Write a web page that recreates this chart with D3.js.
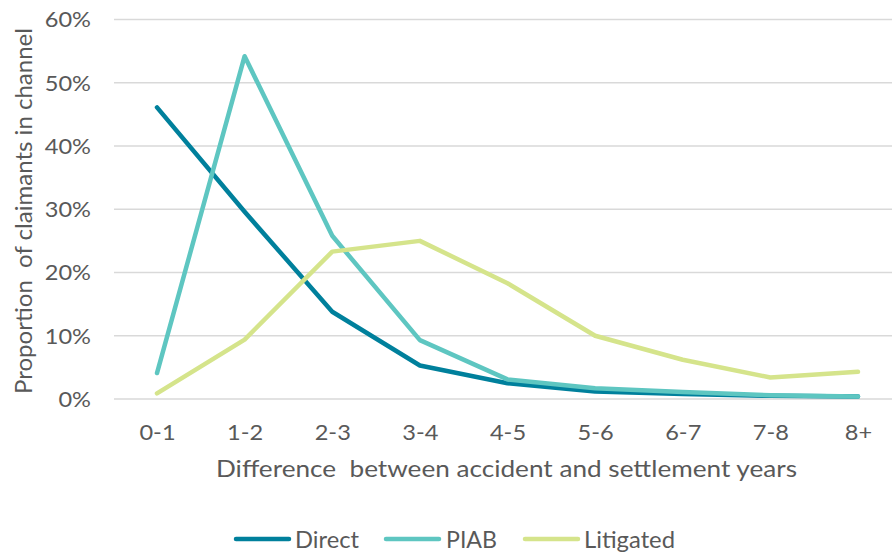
<!DOCTYPE html>
<html><head><meta charset="utf-8">
<script src="https://cdn.jsdelivr.net/npm/d3@7"></script>
<style>body{margin:0;background:#fff}svg{display:block}text{font-family:Lato,"Open Sans",sans-serif;fill:#595959}</style>
</head><body><svg id="c" width="892" height="557"></svg>
<script>
const categories = ["0-1","1-2","2-3","3-4","4-5","5-6","6-7","7-8","8+"];
const direct    = [46.1, 29.6, 13.8, 5.3, 2.5, 1.2, 0.8, 0.5, 0.4];
const piab      = [4.1, 54.2, 25.8, 9.3, 3.1, 1.7, 1.1, 0.6, 0.4];
const litigated = [0.9, 9.4, 23.3, 25.0, 18.3, 10.0, 6.2, 3.4, 4.3];
const yTicks = [0,10,20,30,40,50,60];
const seriesNames = ["Direct","PIAB","Litigated"];
const colors = ["#00809c","#5ec6c1","#d5e48b"];
const series = [direct, piab, litigated];

const svg = d3.select("#c");
const x = d3.scalePoint().domain(categories).range([157, 858]);
const y = d3.scaleLinear().domain([0,60]).range([399, 19.5]);

// gridlines
svg.append("g").selectAll("line").data(yTicks).join("line")
  .attr("x1",114).attr("x2",892).attr("y1",d=>y(d)).attr("y2",d=>y(d))
  .attr("stroke","#d9d9d9").attr("stroke-width",1.5);

// y axis labels
const yAxis = d3.axisLeft(y).tickValues(yTicks).tickFormat(d=>d+"%").tickSize(0).tickPadding(0);
const gy = svg.append("g").attr("transform","translate(91,0)").call(yAxis);
gy.select(".domain").remove();
gy.selectAll("text").attr("font-size",20.5).style("font-family","Lato").attr("fill","#595959")
  .attr("dy","0.36em").attr("transform","scale(1.15,1)");

// x axis labels
const xAxis = d3.axisBottom(x).tickSize(0).tickPadding(0);
const gx = svg.append("g").attr("transform","translate(0,440)").call(xAxis);
gx.select(".domain").remove();
gx.selectAll("text").attr("font-size",20.5).style("font-family","Lato").attr("fill","#595959")
  .attr("dy","0").attr("y",0).attr("transform","scale(1.15,1)");

// lines
const line = d3.line().x((d,i)=>x(categories[i])).y(d=>y(d));
series.forEach((s,k)=>{
  svg.append("path").datum(s).attr("d",line).attr("fill","none")
    .attr("stroke",colors[k]).attr("stroke-width",4.5)
    .attr("stroke-linejoin","round").attr("stroke-linecap","round");
});

// axis titles
svg.append("text").attr("x",216).attr("y",477)
  .attr("font-size",22.5).attr("textLength",581).attr("lengthAdjust","spacingAndGlyphs")
  .text("Difference  between accident and settlement years").attr("xml:space","preserve");
svg.append("text").attr("transform","translate(32,394) rotate(-90)")
  .attr("font-size",22.5).attr("textLength",366).attr("lengthAdjust","spacingAndGlyphs")
  .attr("xml:space","preserve").text("Proportion  of claimants in channel");

// legend
const legX = [236, 386, 525];
const legTextX = [295, 446, 584];
const legTextW = [64, 51, 91];
seriesNames.forEach((n,k)=>{
  svg.append("line").attr("x1",legX[k]).attr("x2",legX[k]+53).attr("y1",539).attr("y2",539)
    .attr("stroke",colors[k]).attr("stroke-width",4.5).attr("stroke-linecap","round");
  svg.append("text").attr("x",legTextX[k]).attr("y",547.5).attr("font-size",22.5)
    .attr("textLength",legTextW[k]).attr("lengthAdjust","spacingAndGlyphs").text(n);
});
</script></body></html>
